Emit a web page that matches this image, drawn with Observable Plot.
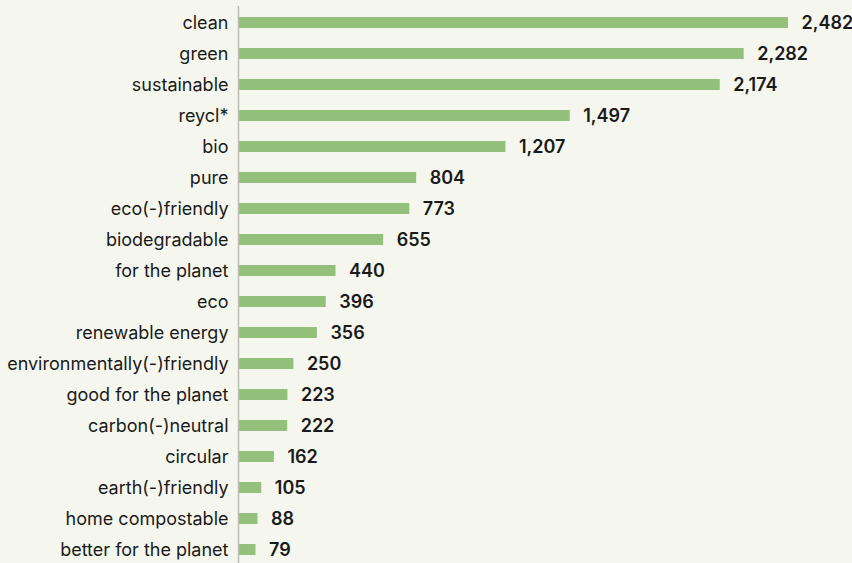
<!DOCTYPE html>
<html>
<head>
<meta charset="utf-8">
<script src="https://cdn.jsdelivr.net/npm/d3@7"></script>
<script src="https://cdn.jsdelivr.net/npm/@observablehq/plot@0.6"></script>
<style>
  html, body { margin: 0; padding: 0; background: #f5f7ee; }
  #chart svg { display: block; }
</style>
</head>
<body>
<div id="chart"></div>
<script>
const terms = ["clean", "green", "sustainable", "reycl*", "bio", "pure", "eco(-)friendly", "biodegradable", "for the planet", "eco", "renewable energy", "environmentally(-)friendly", "good for the planet", "carbon(-)neutral", "circular", "earth(-)friendly", "home compostable", "better for the planet"];
const counts = [2482, 2282, 2174, 1497, 1207, 804, 773, 655, 440, 396, 356, 250, 223, 222, 162, 105, 88, 79];

const data = terms.map((t, i) => ({term: t, count: counts[i]}));
const fmt = d3.format(",");

const chart = Plot.plot({
  width: 852,
  height: 563,
  marginLeft: 238,
  marginRight: 64,
  marginTop: 6,
  marginBottom: 0,
  style: {background: "#f5f7ee", fontFamily: "Inter, sans-serif"},
  x: {domain: [0, 2482], range: [238, 788], axis: null},
  y: {domain: terms, range: [6.5, 566.5], paddingInner: 0.64, paddingOuter: 0.32, axis: null},
  marks: [
    Plot.barX(data, {y: "term", x: "count", fill: "#93c17b"}),
    Plot.ruleX([0], {stroke: "#bdbdb5", strokeWidth: 1.5}),
    Plot.text(data, {y: "term", x: 0, text: "term", textAnchor: "end", dx: -10, fontSize: 18, fill: "#1a1a1a"}),
    Plot.text(data, {y: "term", x: "count", text: d => fmt(d.count), textAnchor: "start", dx: 13, fontSize: 18, fontWeight: 600, fill: "#1a1a1a"})
  ]
});
document.getElementById("chart").appendChild(chart);
</script>
</body>
</html>
